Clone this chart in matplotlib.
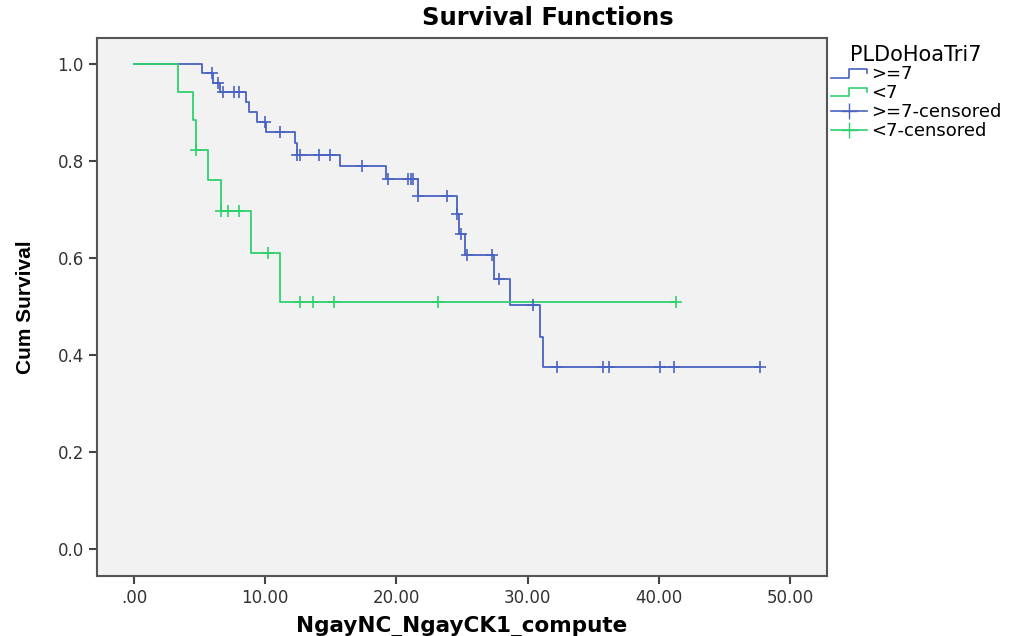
import matplotlib
matplotlib.use("Agg")
import matplotlib.pyplot as plt
from matplotlib.lines import Line2D
from matplotlib.legend_handler import HandlerBase
import numpy as np

# ---- data (time, survival after each drop) ----
hi_event_t = [5.18, 6.05, 6.55, 8.54, 8.79, 9.35, 10.06, 12.27, 12.40, 15.70,
              19.18, 21.67, 24.59, 24.77, 25.23, 27.40, 28.66, 30.95, 31.17]
hi_event_s = [0.981, 0.962, 0.942, 0.921, 0.901, 0.880, 0.859, 0.838, 0.813, 0.790,
              0.763, 0.728, 0.690, 0.650, 0.606, 0.556, 0.503, 0.437, 0.376]
hi_cens_t = [5.95, 6.43, 6.81, 7.64, 8.00, 9.98, 11.13, 12.45, 12.65, 14.10, 14.94,
             17.40, 19.38, 20.90, 21.09, 21.29, 21.67, 23.83, 24.59, 24.92, 25.40,
             27.30, 27.82, 30.41, 32.24, 35.75, 36.20, 40.09, 41.16, 47.71]

lo_event_t = [3.38, 4.52, 4.72, 5.61, 6.61, 8.91, 11.13]
lo_event_s = [0.942, 0.884, 0.823, 0.760, 0.697, 0.610, 0.509]
lo_cens_t = [4.72, 6.61, 7.14, 8.00, 10.19, 12.65, 13.64, 15.24, 23.20, 41.31]

groups = ['>=7', '<7']
colors = {'>=7': '#4a62c2', '<7': '#2fd16e'}

xticks = [0, 10, 20, 30, 40, 50]
xticklabels = ['.00', '10.00', '20.00', '30.00', '40.00', '50.00']
yticks = [0.0, 0.2, 0.4, 0.6, 0.8, 1.0]


class StepHandler(HandlerBase):
    # small step-shaped icon like the SPSS legend
    def create_artists(self, legend, orig_handle, xdescent, ydescent,
                       width, height, fontsize, trans):
        x0, y0 = -xdescent, -ydescent
        xs = [x0, x0 + 0.5 * width, x0 + 0.5 * width, x0 + width, x0 + width]
        ys = [y0 + 0.15 * height, y0 + 0.15 * height, y0 + 0.8 * height,
              y0 + 0.8 * height, y0 + 0.5 * height]
        line = Line2D(xs, ys, color=orig_handle.get_color(),
                      lw=orig_handle.get_linewidth())
        line.set_transform(trans)
        return [line]


def level_at(t_events, s_events, t):
    # survival level of the step curve at time t (right-continuous)
    i = np.searchsorted(t_events, t, side='right')
    return 1.0 if i == 0 else s_events[i - 1]


def main():
    fig = plt.figure(figsize=(10.09, 6.36), dpi=100)
    ax = fig.add_axes([0.0961, 0.0943, 0.7235, 0.846])
    ax.set_facecolor('#f2f2f2')

    series = {
        '>=7': (hi_event_t, hi_event_s, hi_cens_t),
        '<7': (lo_event_t, lo_event_s, lo_cens_t),
    }
    for g in groups:
        et, es, ct = series[g]
        end = max(ct)
        xs = [0.0] + list(et) + [end]
        ys = [1.0] + list(es) + [es[-1]]
        ax.step(xs, ys, where='post', color=colors[g], lw=1.3, zorder=3)
        cs = [level_at(et, es, t) for t in ct]
        ax.plot(ct, cs, linestyle='none', marker='+', markersize=9,
                markeredgewidth=1.2, color=colors[g], zorder=4)

    ax.set_xlim(-2.82, 52.8)
    ax.set_ylim(-0.056, 1.054)
    ax.set_xticks(xticks)
    ax.set_xticklabels(xticklabels)
    ax.set_yticks(yticks)
    ax.set_yticklabels(['%.1f' % v for v in yticks])
    ax.tick_params(direction='out', length=6, width=1.5, color='#444444',
                   labelsize=12, labelcolor='#333333')
    for s in ax.spines.values():
        s.set_color('#555555')
        s.set_linewidth(1.5)

    ax.set_xlabel('NgayNC_NgayCK1_compute', fontsize=15.5, fontweight='bold',
                  labelpad=6)
    ax.set_ylabel('Cum Survival', fontsize=15, fontweight='bold',
                  family=['Liberation Sans', 'DejaVu Sans'], labelpad=16)
    fig.text(0.543, 0.971, 'Survival Functions', ha='center', va='center',
             fontsize=17.5, fontweight='bold')

    handles = [
        Line2D([], [], color=colors['>=7'], lw=1.2),
        Line2D([], [], color=colors['<7'], lw=1.2),
        Line2D([], [], color=colors['>=7'], lw=1.2, marker='+', markersize=11),
        Line2D([], [], color=colors['<7'], lw=1.2, marker='+', markersize=11),
    ]
    labels = ['>=7', '<7', '>=7-censored', '<7-censored']
    fig.legend(handles, labels, loc='upper left',
               bbox_to_anchor=(826 / 1009, 1 - 40 / 636),
               frameon=False, title='PLDoHoaTri7', title_fontsize=15,
               fontsize=13, handlelength=2.0, handletextpad=0.25,
               labelspacing=0.05, borderaxespad=0, borderpad=0.25,
               handler_map={handles[0]: StepHandler(), handles[1]: StepHandler()})

    fig.savefig('out.png', dpi=100, facecolor='white')


if __name__ == '__main__':
    main()
